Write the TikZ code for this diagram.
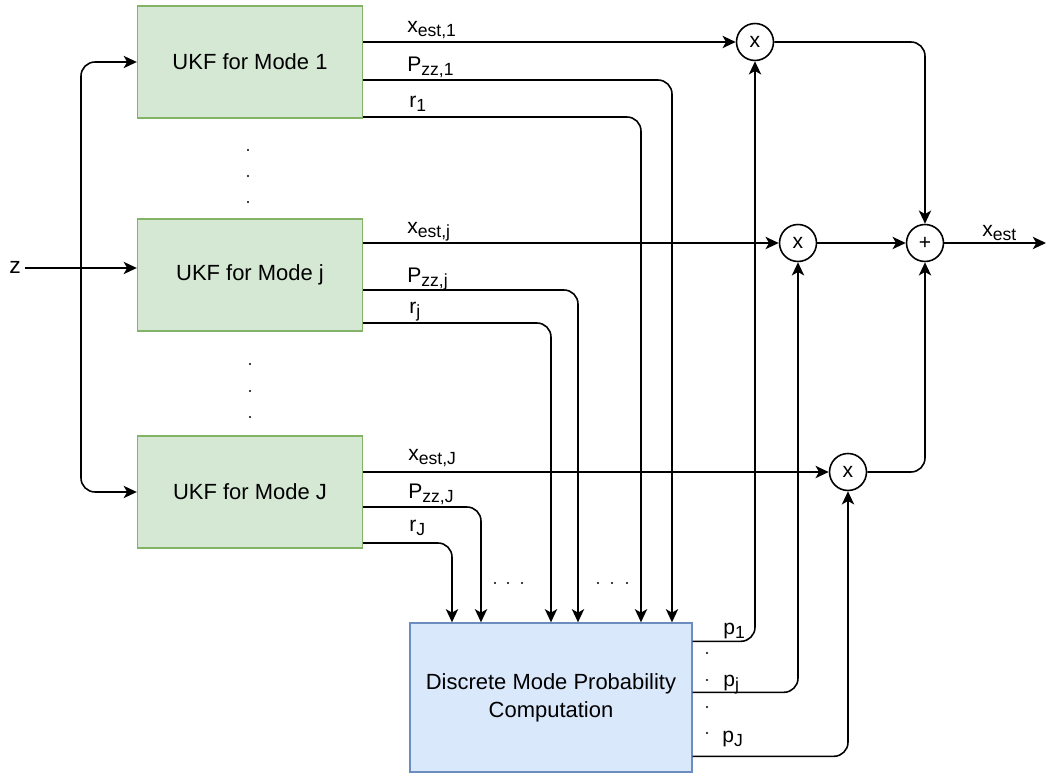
\documentclass[tikz,border=0pt]{standalone}
\usepackage{fontspec}
\setmainfont{Liberation Sans}
\usepackage{xcolor}
\usetikzlibrary{arrows.meta}

\definecolor{ukffill}{HTML}{D5E8D4}
\definecolor{ukfline}{HTML}{82B366}
\definecolor{dmpfill}{HTML}{DAE8FC}
\definecolor{dmpline}{HTML}{6C8EBF}

% lowered, slightly smaller subscript as in the figure
\newcommand{\lowsub}[1]{\raisebox{-2pt}{\fontsize{10}{12}\selectfont #1}}

\begin{document}
\begin{tikzpicture}[x=0.02cm,y=-0.02cm,>={Stealth[length=7.5pt,width=7pt,inset=2pt]},
    ukf/.style={draw=ukfline,fill=ukffill,line width=0.8pt,minimum width=4.5cm,minimum height=2.24cm,inner sep=0pt,font=\fontsize{12.5}{15}\selectfont},
    dmpbox/.style={draw=dmpline,fill=dmpfill,line width=0.8pt,minimum width=5.64cm,minimum height=2.98cm,inner sep=0pt,align=center,font=\fontsize{12.5}{16}\selectfont},
    mult/.style={circle,draw,line width=0.9pt,minimum size=0.74cm,inner sep=0pt,font=\fontsize{12}{14}\selectfont},
    lbl/.style={anchor=base west,inner sep=0pt,font=\fontsize{12}{14}\selectfont},
    wire/.style={line width=0.9pt,rounded corners=8pt}]

        \useasboundingbox (0,0) rectangle (1046,773);

        % Filter bank
        \node[ukf] (ukf1) at (250,62) {UKF for Mode 1};
        \node[ukf] (ukfj) at (250,275) {UKF for Mode j};
        \node[ukf] (ukfJ) at (250,492) {UKF for Mode J};

        % Mode probability block
        \node[dmpbox] (dmp) at (551,697.5) {Discrete Mode Probability\\Computation};

        % Multipliers and the summing junction
        \node[mult] (m1) at (755,42) {x};
        \node[mult] (mj) at (798,243) {x};
        \node[mult] (mJ) at (848,472) {x};
        \node[mult] (sum) at (925,243) {+};

        % Measurement input, split to every filter
        \node[inner sep=2pt,font=\fontsize{13}{15}\selectfont] (z) at (15,267) {z};
        \coordinate (split) at (81,268);
        \draw[wire,->] (split -| z.east) -- (split -| ukfj.west);
        \draw[wire,->] (split) |- (ukf1.west);
        \draw[wire,->] (split) |- (ukfJ.west);

        % Entry points on top of the probability block
        \foreach \n/\x in {1/452,2/481,3/551,4/578,5/641,6/672}
            \coordinate (in\n) at (\x,0 |- dmp.north);

        % Filter 1 outputs
        \draw[wire,->] (m1.west -| ukf1.east) -- (m1.west);
        \draw[wire,->] (ukf1.east) ++(0,18) -| (in6);
        \draw[wire,->] (ukf1.east) ++(0,55) -| (in5);

        % Filter j outputs
        \draw[wire,->] (mj.west -| ukfj.east) -- (mj.west);
        \draw[wire,->] (ukfj.east) ++(0,15) -| (in4);
        \draw[wire,->] (ukfj.east) ++(0,48) -| (in3);

        % Filter J outputs
        \draw[wire,->] (mJ.west -| ukfJ.east) -- (mJ.west);
        \draw[wire,->] (ukfJ.east) ++(0,15) -| (in2);
        \draw[wire,->] (ukfJ.east) ++(0,51) -| (in1);

        % Mode probabilities back to the multipliers
        \draw[wire,->] (dmp.north east) ++(0,19) -| (m1.south);
        \draw[wire,->] (dmp.north east) ++(0,70) -| (mj.south);
        \draw[wire,->] (dmp.north east) ++(0,134) -| (mJ.south);

        % Weighted estimates summed
        \coordinate (out) at (1046,243);
        \draw[wire,->] (m1) -| (sum.north);
        \draw[wire,->] (mj) -- (sum);
        \draw[wire,->] (mJ) -| (sum.south);
        \draw[wire,->] (sum) -- (out);

        % Signal labels
        \node[lbl] (lx1) at (407,33) {x\lowsub{est,1}};
        \node[lbl] (lp1) at (407,72) {P\lowsub{zz,1}};
        \node[lbl] (lr1) at (409,108) {r\lowsub{1}};
        \node[lbl] (lxj) at (407,234) {x\lowsub{est,j}};
        \node[lbl] (lpj) at (407,283) {P\lowsub{zz,j}};
        \node[lbl] (lrj) at (409,314) {r\lowsub{j}};
        \node[lbl] (lxJ) at (408,461) {x\lowsub{est,J}};
        \node[lbl] (lpJ) at (408,499) {P\lowsub{zz,J}};
        \node[lbl] (lrJ) at (409,532) {r\lowsub{J}};
        \node[lbl] (lx) at (982,237) {x\lowsub{est}};
        \node[lbl] (lq1) at (723,635) {p\lowsub{1}};
        \node[lbl] (lqj) at (723,687) {p\lowsub{j}};
        \node[lbl] (lqJ) at (722,743) {p\lowsub{J}};

        % Ellipsis dots
        \foreach \y in {150,176,202} \fill (248,\y) circle (0.7pt);
        \foreach \y in {364,391,417} \fill (250,\y) circle (0.7pt);
        \foreach \x in {495,508,522,598,612,627} \fill (\x,583) circle (0.6pt);
        \foreach \y in {653,680,707,733} \fill (707,\y) circle (0.6pt);

\end{tikzpicture}
\end{document}
